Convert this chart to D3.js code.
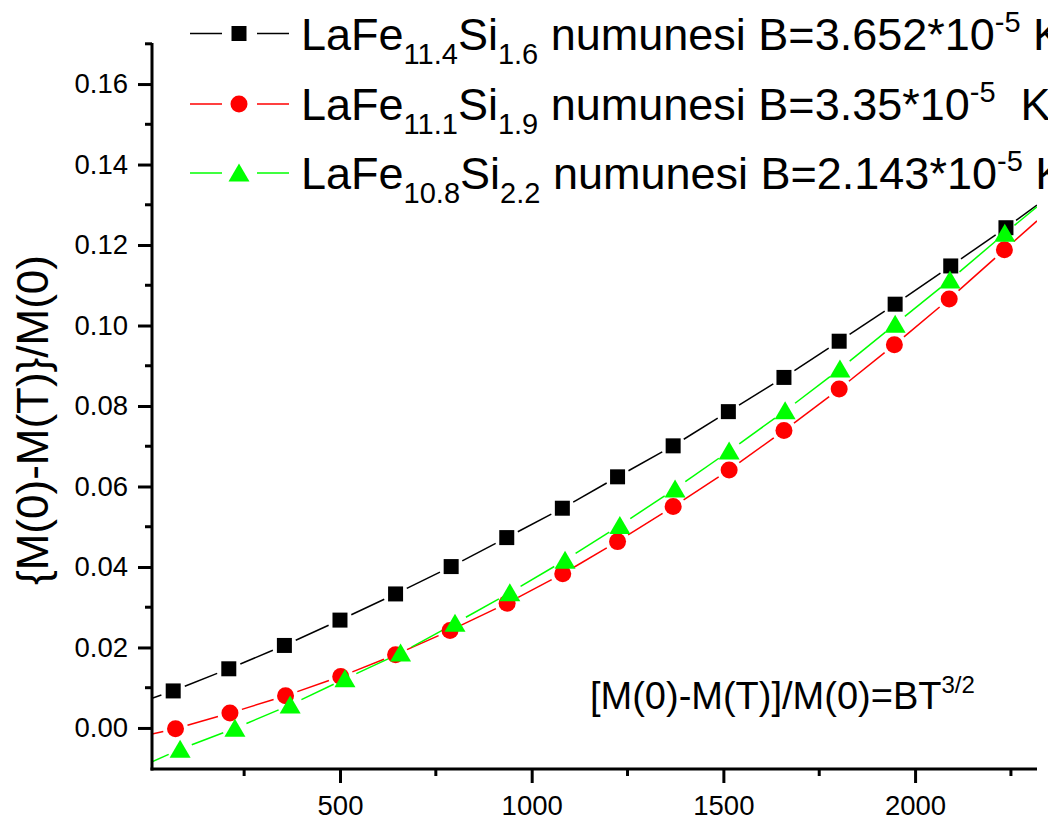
<!DOCTYPE html>
<html>
<head>
<meta charset="utf-8">
<script src="https://cdn.jsdelivr.net/npm/d3@7"></script>
<style>
html,body{margin:0;padding:0;background:#fff;}
svg{display:block;font-family:"Liberation Sans",Arial,sans-serif;}
</style>
</head>
<body>
<svg id="chart" width="1048" height="827"></svg>
<script>
// ---- data ----
const blackX = [65, 210, 355, 500, 645, 790, 935, 1080, 1224, 1369, 1513, 1658, 1802, 1948, 2093, 2237];
const blackY = [0.0092, 0.0147, 0.0205, 0.0268, 0.0333, 0.0401, 0.0473, 0.0546, 0.0624, 0.0701, 0.0786, 0.0871, 0.0961, 0.1053, 0.1148, 0.1243];
const redX = [71, 213, 358, 502, 645, 787, 936, 1081, 1224, 1369, 1515, 1658, 1802, 1946, 2089, 2233];
const redY = [-0.0002, 0.0037, 0.0080, 0.0128, 0.0182, 0.0242, 0.0310, 0.0383, 0.0463, 0.0550, 0.0641, 0.0739, 0.0842, 0.0952, 0.1066, 0.1188];
const greenX = [83, 226, 370, 513, 658, 800, 943, 1087, 1230, 1374, 1515, 1661, 1804, 1948, 2091, 2234];
const greenY = [-0.0053, -0.0001, 0.0057, 0.0122, 0.0186, 0.0260, 0.0336, 0.0417, 0.0503, 0.0594, 0.0688, 0.0788, 0.0892, 0.1003, 0.1113, 0.1229];
// line values at the left and right edges of the plot
const blackEdges = [0.0074, 0.1299];
const redEdges = [-0.0015, 0.1260];
const greenEdges = [-0.0084, 0.1295];

const xDomain = [9.7, 2318];
const yDomain = [-0.0102, 0.1702];
const xMajorTicks = [500, 1000, 1500, 2000];
const xMinorTicks = [250, 750, 1250, 1750, 2250];
const yMajorTicks = [0.00, 0.02, 0.04, 0.06, 0.08, 0.10, 0.12, 0.14, 0.16];
const yMinorTicks = [0.01, 0.03, 0.05, 0.07, 0.09, 0.11, 0.13, 0.15, 0.17];

const seriesNames = ["black", "red", "green"];
const legendFe = ["11.4", "11.1", "10.8"];
const legendSi = ["1.6", "1.9", "2.2"];
const legendB = ["3.652", "3.35", "2.143"];
const yAxisTitle = "{M(0)-M(T)}/M(0)";
const annotation = "[M(0)-M(T)]/M(0)=BT";
const annotationSup = "3/2";

// ---- layout ----
const L = 152, R = 1037, T = 43, B = 769;
const svg = d3.select("#chart");
const x = d3.scaleLinear().domain(xDomain).range([L, R]);
const y = d3.scaleLinear().domain(yDomain).range([B, T]);

const series = [
  {name: "black", xs: blackX, ys: blackY, edges: blackEdges, color: "#000000", shape: "square"},
  {name: "red", xs: redX, ys: redY, edges: redEdges, color: "#ff0000", shape: "circle"},
  {name: "green", xs: greenX, ys: greenY, edges: greenEdges, color: "#00ff00", shape: "triangle"}
];

svg.append("defs").append("clipPath").attr("id", "clip")
  .append("rect").attr("x", L).attr("y", T - 20).attr("width", R - L).attr("height", B - T + 20);

function symbolPath(shape) {
  if (shape === "square") return d3.symbol().type(d3.symbolSquare).size(15 * 15)();
  if (shape === "circle") return d3.symbol().type(d3.symbolCircle).size(Math.PI * 8.5 * 8.5)();
  return "M0,-9.5L10.5,8.5L-10.5,8.5Z";
}

const plot = svg.append("g").attr("clip-path", "url(#clip)");
const GAP = 12.5;
series.forEach(s => {
  const pts = [{px: x(xDomain[0]), py: y(s.edges[0]), m: false}];
  s.xs.forEach((v, i) => pts.push({px: x(v), py: y(s.ys[i]), m: true}));
  pts.push({px: x(xDomain[1]), py: y(s.edges[1]), m: false});
  const segs = [];
  for (let i = 0; i < pts.length - 1; i++) {
    const a = pts[i], b = pts[i + 1];
    const dx = b.px - a.px, dy = b.py - a.py, d = Math.hypot(dx, dy);
    const g0 = a.m ? GAP : 0, g1 = b.m ? GAP : 0;
    if (d <= g0 + g1) continue;
    const ux = dx / d, uy = dy / d;
    segs.push([a.px + ux * g0, a.py + uy * g0, b.px - ux * g1, b.py - uy * g1]);
  }
  plot.append("g").selectAll("line").data(segs).join("line")
    .attr("x1", d => d[0]).attr("y1", d => d[1]).attr("x2", d => d[2]).attr("y2", d => d[3])
    .attr("stroke", s.color).attr("stroke-width", 1.5);
});
series.forEach(s => {
  plot.append("g").selectAll("path").data(s.xs.map((v, i) => [v, s.ys[i]])).join("path")
    .attr("d", symbolPath(s.shape))
    .attr("transform", d => `translate(${x(d[0])},${y(d[1])})`)
    .attr("fill", s.color);
});

// ---- axes ----
const axisG = svg.append("g");
const xAxis = d3.axisBottom(x).tickValues(xMajorTicks).tickSize(14).tickSizeOuter(0).tickPadding(12).tickFormat(d3.format("d"));
const gx = axisG.append("g").attr("transform", `translate(0,${B})`).call(xAxis);
gx.select(".domain").attr("stroke-width", 3).attr("d", `M${L - 1.5},0H${R}`);
gx.selectAll(".tick line").attr("stroke-width", 3);
gx.selectAll("text").attr("font-size", 27.5).attr("font-family", "Liberation Sans, Arial, sans-serif").attr("fill", "#000");
axisG.append("g").attr("transform", `translate(0,${B})`).selectAll("line").data(xMinorTicks).join("line")
  .attr("x1", d => x(d)).attr("x2", d => x(d)).attr("y1", 0).attr("y2", 7)
  .attr("stroke", "#000").attr("stroke-width", 3);

const yAxis = d3.axisLeft(y).tickValues(yMajorTicks).tickSize(14).tickSizeOuter(0).tickPadding(10).tickFormat(d3.format(".2f"));
const gy = axisG.append("g").attr("transform", `translate(${L},0)`).call(yAxis);
gy.select(".domain").attr("stroke-width", 3).attr("d", `M0,${B + 1.5}V${T}`);
gy.selectAll(".tick line").attr("stroke-width", 3);
gy.selectAll("text").attr("font-size", 27.5).attr("font-family", "Liberation Sans, Arial, sans-serif").attr("fill", "#000");
axisG.append("g").attr("transform", `translate(${L},0)`).selectAll("line").data(yMinorTicks).join("line")
  .attr("y1", d => y(d)).attr("y2", d => y(d)).attr("x1", 0).attr("x2", -7)
  .attr("stroke", "#000").attr("stroke-width", 3);

// y title
svg.append("text").attr("transform", "translate(48,420) rotate(-90)")
  .attr("text-anchor", "middle").attr("font-size", 44).attr("fill", "#000").text(yAxisTitle);

// annotation
const ann = svg.append("text").attr("x", 590).attr("y", 709).attr("font-size", 38).attr("fill", "#000");
ann.append("tspan").text(annotation);
ann.append("tspan").attr("dy", -16).attr("font-size", 24).text(annotationSup);

// ---- legend ----
const legendRows = [33.5, 104, 173];
const leg = svg.append("g");
series.forEach((s, i) => {
  const cy = legendRows[i];
  leg.append("line").attr("x1", 190).attr("x2", 222).attr("y1", cy).attr("y2", cy).attr("stroke", s.color).attr("stroke-width", 1.5);
  leg.append("line").attr("x1", 257).attr("x2", 289).attr("y1", cy).attr("y2", cy).attr("stroke", s.color).attr("stroke-width", 1.5);
  leg.append("path").attr("d", symbolPath(s.shape)).attr("transform", `translate(239,${cy})`).attr("fill", s.color);
  const t = leg.append("text").attr("x", 301).attr("y", cy + 16).attr("font-size", 45).attr("fill", "#000")
    .attr("xml:space", "preserve").style("white-space", "pre");
  t.append("tspan").text("LaFe");
  t.append("tspan").attr("dy", 14).attr("font-size", 29).text(legendFe[i]);
  t.append("tspan").attr("dy", -14).text("Si");
  t.append("tspan").attr("dy", 14).attr("font-size", 29).text(legendSi[i]);
  t.append("tspan").attr("dy", -14).text(" numunesi B=" + legendB[i] + "*10");
  t.append("tspan").attr("dy", -18).attr("font-size", 29).text("-5");
  t.append("tspan").attr("dy", 18).text(i === 1 ? "  K" : " K");
});
</script>
</body>
</html>
